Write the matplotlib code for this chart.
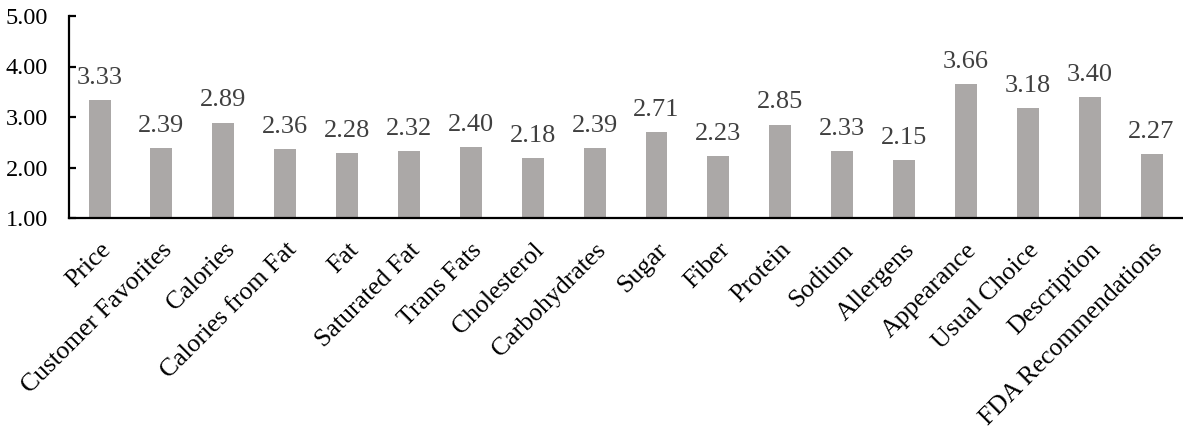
import matplotlib
matplotlib.use("Agg")
import matplotlib.pyplot as plt
import numpy as np

categories = ["Price", "Customer Favorites", "Calories", "Calories from Fat", "Fat",
              "Saturated Fat", "Trans Fats", "Cholesterol", "Carbohydrates", "Sugar",
              "Fiber", "Protein", "Sodium", "Allergens", "Appearance", "Usual Choice",
              "Description", "FDA Recommendations"]
values = [3.33, 2.39, 2.89, 2.36, 2.28, 2.32, 2.40, 2.18, 2.39, 2.71,
          2.23, 2.85, 2.33, 2.15, 3.66, 3.18, 3.40, 2.27]
yticks = [1.0, 2.0, 3.0, 4.0, 5.0]

plt.rcParams['font.family'] = ['Liberation Serif', 'DejaVu Serif']

W, H = 1183, 438
fig = plt.figure(figsize=(W / 100, H / 100), dpi=100)
left, right, top, bottom = 68.6, 1182.5, 16, 218
ax = fig.add_axes([left / W, 1 - bottom / H, (right - left) / W, (bottom - top) / H])

x = np.arange(len(categories))
ax.bar(x, values, width=0.355, color='#ABA8A7', zorder=2)

for xi, v in zip(x, values):
    ax.annotate(f"{v:.2f}", (xi, v), xytext=(0, 8), textcoords='offset points',
                ha='center', va='bottom', fontsize=19, color='#404040')

ax.set_xlim(-0.5, len(categories) - 0.5)
ax.set_ylim(1, 5)
ax.set_yticks(yticks)
ax.set_yticklabels([f"{t:.2f}" for t in yticks], fontsize=17.5)
ax.set_xticks(x)
ax.set_xticklabels(categories, rotation=45, ha='right', rotation_mode='anchor', fontsize=18.5)

for s in ['top', 'right']:
    ax.spines[s].set_visible(False)
for s in ['left', 'bottom']:
    ax.spines[s].set_linewidth(1.6)
    ax.spines[s].set_color('black')

ax.tick_params(axis='y', direction='in', length=5, width=1.6, pad=15)
ax.tick_params(axis='x', length=0, pad=15)

fig.savefig("out.png", dpi=100)
